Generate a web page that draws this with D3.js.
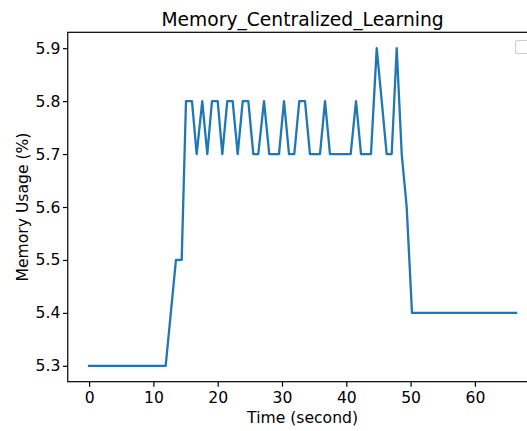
<!DOCTYPE html>
<html>
<head>
<meta charset="utf-8">
<script src="https://cdn.jsdelivr.net/npm/d3@7"></script>
<style>
  html, body { margin: 0; padding: 0; background: #fff; }
  svg { display: block; }
  text { font-family: "DejaVu Sans", sans-serif; fill: #000; }
</style>
</head>
<body>
<svg id="chart" width="527" height="431"></svg>
<script>
// Sampled memory usage over time (seconds, percent)
const timeSec = [0, 11.91, 13.51, 14.40, 15.07, 16.00, 16.73, 17.60, 18.38, 19.11, 20.00,
  20.72, 21.49, 22.33, 23.11, 23.89, 24.76, 25.54, 26.31, 27.20, 28.02, 28.83, 29.53,
  30.31, 31.09, 31.91, 32.69, 33.58, 34.35, 35.13, 35.91, 36.69, 37.46, 38.24, 39.02,
  39.88, 40.68, 41.51, 42.29, 43.06, 43.84, 44.73, 45.51, 46.28, 47.06, 47.84, 48.62,
  49.39, 50.22, 66.40];
const memoryPct = [5.3, 5.3, 5.5, 5.5, 5.8, 5.8, 5.7, 5.8, 5.7, 5.8, 5.8,
  5.7, 5.8, 5.8, 5.7, 5.8, 5.8, 5.7, 5.7, 5.8, 5.7, 5.7, 5.7,
  5.8, 5.7, 5.7, 5.8, 5.8, 5.7, 5.7, 5.7, 5.8, 5.7, 5.7, 5.7,
  5.7, 5.7, 5.8, 5.7, 5.7, 5.7, 5.9, 5.8, 5.7, 5.7, 5.9, 5.7,
  5.6, 5.4, 5.4];
const xTickValues = [0, 10, 20, 30, 40, 50, 60];
const yTickValues = [5.3, 5.4, 5.5, 5.6, 5.7, 5.8, 5.9];
const titleText = "Memory_Centralized_Learning";
const xLabelText = "Time (second)";
const yLabelText = "Memory Usage (%)";

const svg = d3.select("#chart");
const plot = { left: 67.75, right: 537.4, top: 32.3, bottom: 381.7 };
const tickFont = "15.6px";

const xExtent = d3.extent(timeSec);
const xPad = (xExtent[1] - xExtent[0]) * 0.05;
const yExtent = d3.extent(memoryPct);
const yPad = (yExtent[1] - yExtent[0]) * 0.05;

const x = d3.scaleLinear()
  .domain([xExtent[0] - xPad, xExtent[1] + xPad])
  .range([plot.left, plot.right]);
const y = d3.scaleLinear()
  .domain([yExtent[0] - yPad, yExtent[1] + yPad])
  .range([plot.bottom, plot.top]);

const data = timeSec.map((t, i) => ({ t, v: memoryPct[i] }));

// data line
svg.append("path")
  .datum(data)
  .attr("fill", "none")
  .attr("stroke", "#1f77b4")
  .attr("stroke-width", 2.3)
  .attr("stroke-linejoin", "round")
  .attr("stroke-linecap", "square")
  .attr("d", d3.line().x(d => x(d.t)).y(d => y(d.v)));

// axes
const xAxis = d3.axisBottom(x).tickValues(xTickValues).tickFormat(d3.format("d"))
  .tickSize(5).tickPadding(5.5);
const yAxis = d3.axisLeft(y).tickValues(yTickValues).tickFormat(d3.format(".1f"))
  .tickSize(4.8).tickPadding(2.6);

const gx = svg.append("g").attr("transform", `translate(0,${plot.bottom})`).call(xAxis);
const gy = svg.append("g").attr("transform", `translate(${plot.left},0)`).call(yAxis);
[gx, gy].forEach(g => {
  g.select(".domain").remove();
  g.selectAll(".tick line").attr("stroke", "#000").attr("stroke-width", 1.2);
  g.selectAll(".tick text").attr("font-size", tickFont).attr("fill", "#000")
    .attr("font-family", "DejaVu Sans, sans-serif");
});

// frame
svg.append("rect")
  .attr("x", plot.left).attr("y", plot.top)
  .attr("width", plot.right - plot.left).attr("height", plot.bottom - plot.top)
  .attr("fill", "none").attr("stroke", "#000").attr("stroke-width", 1.2);

// empty legend box (upper right)
svg.append("rect")
  .attr("x", 515.5).attr("y", 40.5).attr("width", 15).attr("height", 13)
  .attr("rx", 2).attr("fill", "#fff").attr("fill-opacity", 0.8)
  .attr("stroke", "#ccc").attr("stroke-width", 1.1);

// title and axis labels
const cx = (plot.left + plot.right) / 2;
svg.append("text").attr("x", cx).attr("y", 26).attr("text-anchor", "middle")
  .attr("font-size", "18.7px").text(titleText);
svg.append("text").attr("x", cx).attr("y", 423).attr("text-anchor", "middle")
  .attr("font-size", tickFont).text(xLabelText);
svg.append("text")
  .attr("transform", `translate(27.5,${(plot.top + plot.bottom) / 2}) rotate(-90)`)
  .attr("text-anchor", "middle").attr("font-size", tickFont).text(yLabelText);
</script>
</body>
</html>
